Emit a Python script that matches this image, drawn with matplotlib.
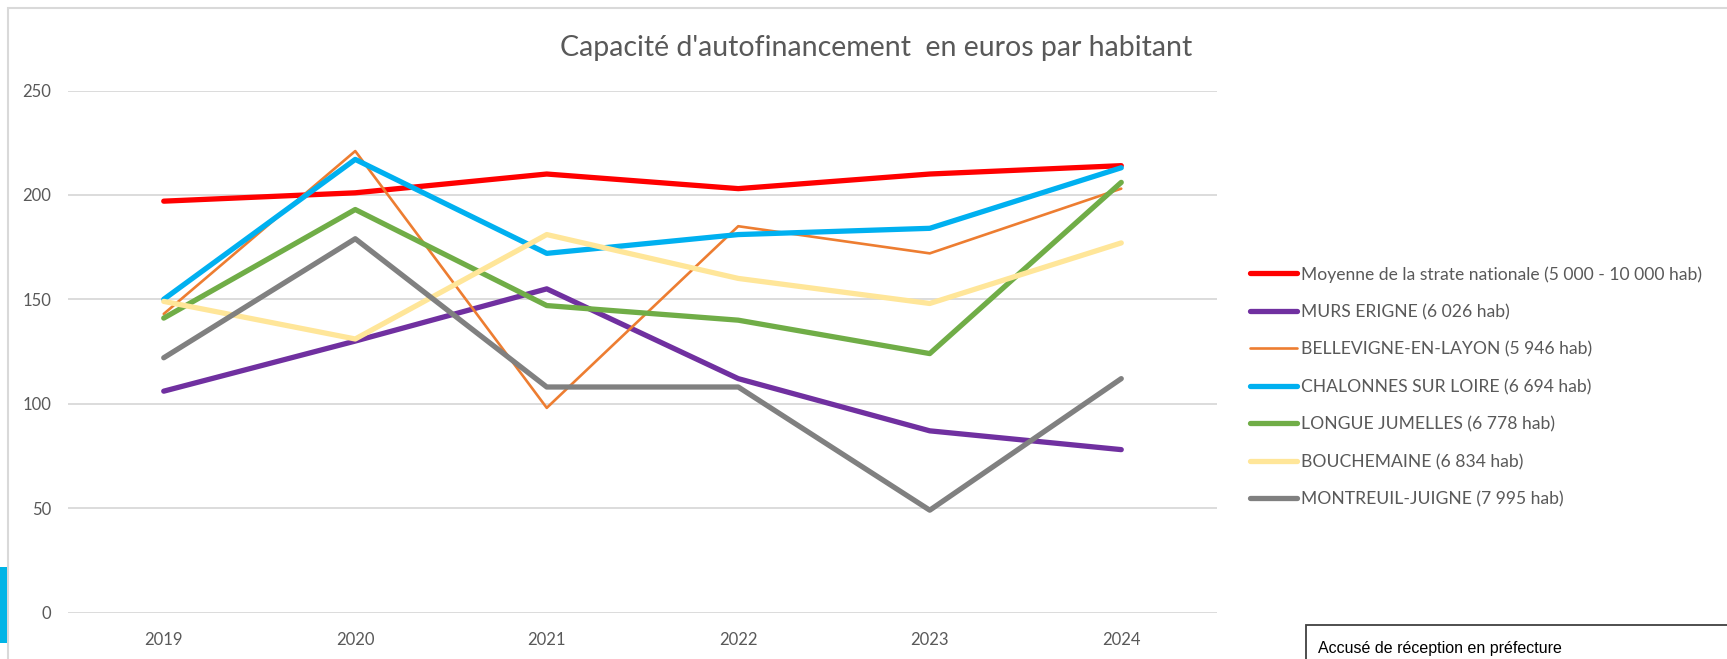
import numpy as np
import matplotlib
matplotlib.use("Agg")
import matplotlib.pyplot as plt
from matplotlib.patches import Rectangle

years = ["2019", "2020", "2021", "2022", "2023", "2024"]

labels = [
    "Moyenne de la strate nationale (5 000 - 10 000 hab)",
    "MURS ERIGNE (6 026 hab)",
    "BELLEVIGNE-EN-LAYON (5 946 hab)",
    "CHALONNES SUR LOIRE (6 694 hab)",
    "LONGUE JUMELLES (6 778 hab)",
    "BOUCHEMAINE (6 834 hab)",
    "MONTREUIL-JUIGNE (7 995 hab)",
]

moyenne = [197, 201, 210, 203, 210, 214]
murs_erigne = [106, 130, 155, 112, 87, 78]
bellevigne = [143, 221, 98, 185, 172, 203]
chalonnes = [150, 217, 172, 181, 184, 213]
longue = [141, 193, 147, 140, 124, 206]
bouchemaine = [149, 131, 181, 160, 148, 177]
montreuil = [122, 179, 108, 108, 49, 112]

series = [moyenne, murs_erigne, bellevigne, chalonnes, longue, bouchemaine, montreuil]
colors = ["#FF0000", "#7030A0", "#ED7D31", "#00B0F0", "#70AD47", "#FFE699", "#808080"]
widths = [3.8, 3.8, 1.9, 3.8, 3.8, 3.8, 3.8]

plt.rcParams["font.family"] = ["Lato", "DejaVu Sans"]
txt = "#595959"

W, H = 1727, 659
fig = plt.figure(figsize=(W / 100, H / 100), dpi=100)
ax = fig.add_axes([68 / W, 1 - 612.5 / H, (1217 - 68) / W, (612.5 - 90.5) / H])

x = np.arange(len(years))
for vals, c, lw, lab in zip(series, colors, widths, labels):
    ax.plot(x, vals, color=c, lw=lw, label=lab, solid_capstyle="round", solid_joinstyle="round")

ax.set_xlim(-0.5, len(years) - 0.5)
ax.set_ylim(0, 250)
ax.set_yticks(range(0, 251, 50))
ax.set_xticks(x)
ax.set_xticklabels(years)
ax.yaxis.grid(True, color="#D9D9D9", lw=1.3)
ax.set_axisbelow(True)
for s in ax.spines.values():
    s.set_visible(False)
ax.tick_params(length=0, labelsize=12, colors=txt)
ax.tick_params(axis="y", pad=12)
ax.tick_params(axis="x", pad=14)

fig.text(876 / W, 1 - 48 / H, "Capacité d'autofinancement  en euros par habitant",
         ha="center", va="center", fontsize=20.5, color=txt)

leg = fig.legend(loc="upper left", bbox_to_anchor=(1250 / W, 1 - 266 / H),
                 frameon=False, fontsize=12.6, handlelength=2.7, handletextpad=0.2,
                 labelspacing=1.22, borderpad=0, borderaxespad=0)
for t in leg.get_texts():
    t.set_color(txt)

# chart border and surrounding page bits
fig.add_artist(Rectangle((8 / W, -0.1), 1.2, 1 - 8 / H + 0.1, transform=fig.transFigure,
                         fill=False, edgecolor="#D9D9D9", lw=1.5))
fig.add_artist(Rectangle((0, 1 - 643 / H), 7 / W, 76 / H, transform=fig.transFigure,
                         facecolor="#00B4E6", edgecolor="none"))
fig.add_artist(Rectangle((1306 / W, -0.1), 0.5, 1 - 625 / H + 0.1, transform=fig.transFigure,
                         facecolor="white", edgecolor="#404040", lw=1.3))
fig.text(1318 / W, 1 - 649 / H, "Accusé de réception en préfecture", ha="left", va="center",
         fontsize=11.5, color="black", family="Liberation Sans")

fig.savefig("out.png", dpi=100)
